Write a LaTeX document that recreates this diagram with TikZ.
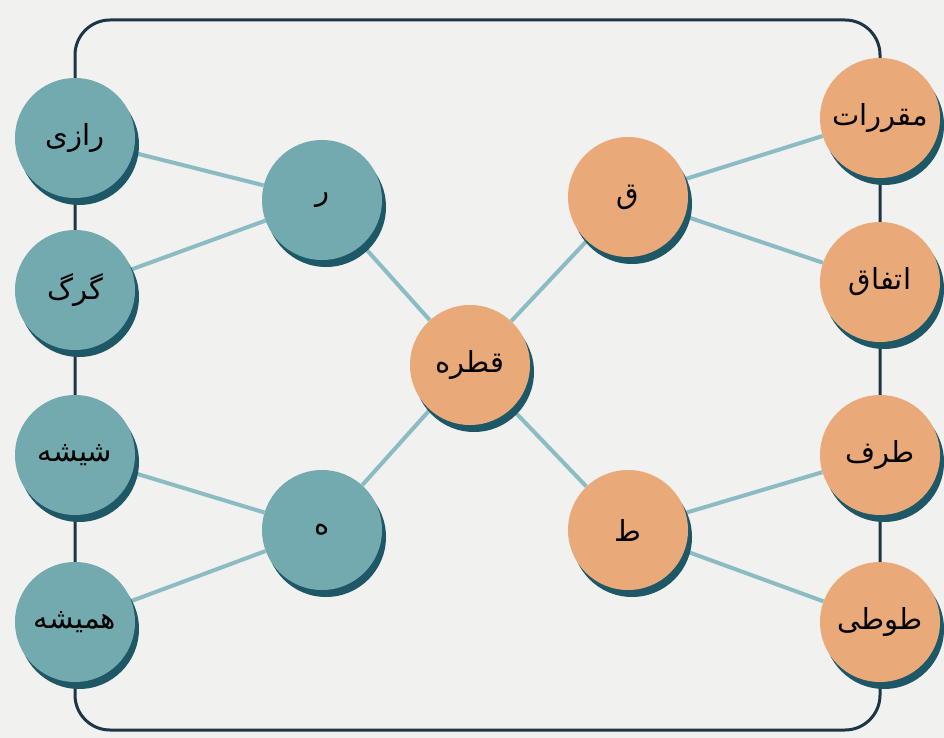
\documentclass[tikz,border=0pt]{standalone}
\usepackage{fontspec}
\newfontfamily\arabicfont[Script=Arabic]{DejaVu Sans}
\TeXXeTstate=1
\usetikzlibrary{shadows}
\definecolor{tealfill}{HTML}{72AAB0}
\definecolor{orangefill}{HTML}{E9A979}
\definecolor{shadowcol}{HTML}{1E5866}
\definecolor{linkcol}{HTML}{8BBCC3}
\definecolor{framecol}{HTML}{1C3646}
\definecolor{paper}{HTML}{F1F1EF}
\pgfdeclarelayer{back}
\pgfsetlayers{back,main}
\tikzset{
  bubble/.style={circle, minimum size=120pt, inner sep=0pt,
    drop shadow={shadow xshift=4pt, shadow yshift=-7pt, fill=shadowcol, opacity=1},
    font=\arabicfont\fontsize{29}{34}\selectfont},
  tealb/.style={bubble, fill=tealfill},
  orangeb/.style={bubble, fill=orangefill},
  link/.style={draw=linkcol, line width=4pt},
  frameline/.style={draw=framecol, line width=3pt, rounded corners=35pt}
}
\begin{document}
\begin{tikzpicture}[x=1pt,y=-1pt]
\useasboundingbox (0,0) rectangle (944,738);
% left column
\node[tealb] (razi) at (75,138) {\beginR رازی\endR};
\node[tealb] (gorg) at (75,290) {\beginR گرگ\endR};
\node[tealb] (shishe) at (75,455) {\beginR شیشه\endR};
\node[tealb] (hamishe) at (75,622) {\beginR همیشه\endR};
% left middle
\node[tealb] (re) at (322,200) {\beginR ر\endR};
\node[tealb] (he) at (322,530) {\beginR ه\endR};
% center
\node[orangeb] (ghatre) at (470,365) {\beginR قطره\endR};
% right middle
\node[orangeb] (ghaf) at (628,197) {\beginR ق\endR};
\node[orangeb] (ta) at (628,530) {\beginR ط\endR};
% right column
\node[orangeb] (moghararat) at (880,118) {\beginR مقررات\endR};
\node[orangeb] (ettefagh) at (880,282) {\beginR اتفاق\endR};
\node[orangeb] (taraf) at (880,455) {\beginR طرف\endR};
\node[orangeb] (tooti) at (880,622) {\beginR طوطی\endR};
\begin{pgfonlayer}{back}
\fill[paper] (0,0) rectangle (944,738);
\draw[frameline] (75,20) rectangle (880,730);
\draw[link] (razi) -- (re);
\draw[link] (gorg) -- (re);
\draw[link] (shishe) -- (he);
\draw[link] (hamishe) -- (he);
\draw[link] (re) -- (ghatre);
\draw[link] (he) -- (ghatre);
\draw[link] (ghatre) -- (ghaf);
\draw[link] (ghatre) -- (ta);
\draw[link] (ghaf) -- (moghararat);
\draw[link] (ghaf) -- (ettefagh);
\draw[link] (ta) -- (taraf);
\draw[link] (ta) -- (tooti);
\end{pgfonlayer}
\end{tikzpicture}
\end{document}
